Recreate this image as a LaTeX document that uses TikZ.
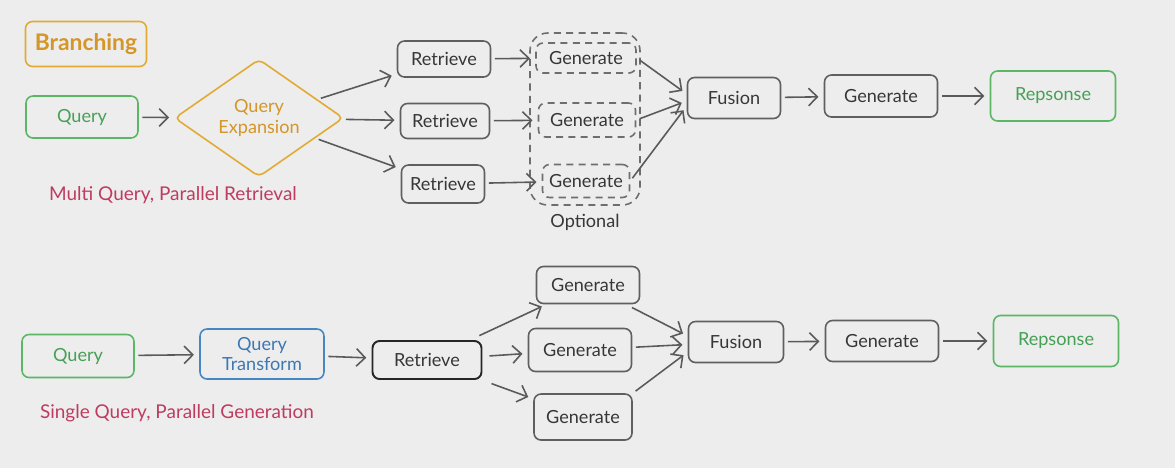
\documentclass[tikz,border=0pt]{standalone}
\usepackage{fontspec}
\setmainfont{Lato}
\usetikzlibrary{shapes.geometric,arrows.meta,calc}
\definecolor{bgc}{RGB}{237,237,237}
\definecolor{boxc}{RGB}{95,95,95}
\definecolor{txt}{RGB}{55,55,55}
\definecolor{arrc}{RGB}{90,90,90}
\definecolor{grn}{RGB}{92,182,102}
\definecolor{grnt}{RGB}{70,160,85}
\definecolor{orng}{RGB}{226,170,50}
\definecolor{orngt}{RGB}{212,150,40}
\definecolor{blu}{RGB}{70,135,195}
\definecolor{blut}{RGB}{60,120,180}
\definecolor{crim}{RGB}{190,60,95}
\definecolor{dsh}{RGB}{110,110,110}
\tikzset{
  box/.style={draw=boxc, rounded corners=4pt, line width=0.9pt, text=txt, align=center, inner sep=0pt},
  dbox/.style={box, dashed, dash pattern=on 4pt off 3pt},
  arr/.style={-{Straight Barb[length=5pt,width=10pt]}, draw=arrc, line width=0.9pt, shorten <=2pt, shorten >=3pt},
  lbl/.style={text=crim, inner sep=0pt, font=\fontsize{10.8}{12}\selectfont}
}
\begin{document}
\begin{tikzpicture}[x=0.02cm,y=-0.02cm, font=\fontsize{10.3}{11.5}\selectfont]
\fill[bgc] (0,0) rectangle (1175,468);
\useasboundingbox (0,0) rectangle (1175,468);

% ---------- top row ----------
\node[box, draw=orng, text=orngt, minimum width=2.42cm, minimum height=0.9cm, font=\fontsize{13}{15}\selectfont\bfseries] (br) at (86,44) {Branching};
\node[box, draw=grn, text=grnt, minimum width=2.24cm, minimum height=0.84cm] (q1) at (82,117) {Query};
\node[diamond, draw=orng, text=orngt, line width=0.9pt, minimum width=3.38cm, minimum height=1.86cm, inner sep=0pt, align=center, rounded corners=3pt] (qe) at (259,118) {Query\\Expansion};
\node[lbl] (lab1) at (173,195) {Multi Query, Parallel Retrieval};

\node[box, minimum width=1.86cm, minimum height=0.72cm] (r1) at (444,59) {Retrieve};
\node[box, minimum width=1.78cm, minimum height=0.7cm] (r2) at (445,121) {Retrieve};
\node[box, minimum width=1.66cm, minimum height=0.76cm] (r3) at (443,184) {Retrieve};

\node[dbox, draw=dsh, rounded corners=10pt, minimum width=2.2cm, minimum height=3.44cm] (opt) at (585,119) {};
\node[dbox, draw=dsh, minimum width=2.0cm, minimum height=0.6cm] (g1) at (586,58) {Generate};
\node[dbox, draw=dsh, minimum width=1.94cm, minimum height=0.68cm] (g2) at (587,120) {Generate};
\node[dbox, draw=dsh, minimum width=1.74cm, minimum height=0.66cm] (g3) at (586,181) {Generate};
\node[text=txt, inner sep=0pt] (optl) at (585,222) {Optional};

\node[box, minimum width=1.86cm, minimum height=0.82cm] (fu1) at (734,98) {Fusion};
\node[box, minimum width=2.26cm, minimum height=0.84cm] (ge1) at (881,96) {Generate};
\node[box, draw=grn, text=grnt, minimum width=2.5cm, minimum height=1.0cm] (rs1) at (1053,96) {Repsonse};

\draw[arr] (q1) -- (qe);
\draw[arr] (qe) -- (r1);
\draw[arr] (qe) -- (r2);
\draw[arr] (qe) -- (r3);
\draw[arr] (r1) -- (g1);
\draw[arr] (r2) -- (g2);
\draw[arr] (r3) -- (g3);
\draw[arr] (g1.east) -- ($(fu1.west)+(0,-4)$);
\draw[arr] (g2.east) -- ($(fu1.west)+(0,3)$);
\draw[arr] (g3.east) -- ($(fu1.west)+(0,8)$);
\draw[arr] (fu1) -- (ge1);
\draw[arr] (ge1) -- (rs1);

% ---------- bottom row ----------
\node[box, draw=grn, text=grnt, minimum width=2.24cm, minimum height=0.86cm] (q2) at (78,356) {Query};
\node[box, draw=blu, text=blut, minimum width=2.48cm, minimum height=1.0cm] (qt) at (262,354) {Query\\Transform};
\node[box, draw=black!85, line width=1.1pt, minimum width=2.18cm, minimum height=0.76cm] (rb) at (427,360) {Retrieve};
\node[lbl] (lab2) at (177,413) {Single Query, Parallel Generation};

\node[box, minimum width=2.06cm, minimum height=0.74cm] (gb1) at (588,285) {Generate};
\node[box, minimum width=2.06cm, minimum height=0.86cm] (gb2) at (580,350) {Generate};
\node[box, minimum width=1.96cm, minimum height=0.92cm] (gb3) at (583,417) {Generate};

\node[box, minimum width=1.9cm, minimum height=0.82cm] (fu2) at (736,342) {Fusion};
\node[box, minimum width=2.26cm, minimum height=0.82cm] (ge2) at (882,341) {Generate};
\node[box, draw=grn, text=grnt, minimum width=2.5cm, minimum height=1.02cm] (rs2) at (1056,341) {Repsonse};

\draw[arr] (q2) -- (qt);
\draw[arr] (qt) -- (rb);
\draw[arr, shorten <=6pt] (rb) -- (gb1);
\draw[arr, shorten <=4pt] (rb) -- (gb2);
\draw[arr, shorten <=6pt] (rb) -- (gb3);
\draw[arr, shorten <=4pt] (gb1) -- ($(fu2.west)+(0,-6)$);
\draw[arr] (gb2) -- (fu2);
\draw[arr] (gb3.north east) -- ($(fu2.west)+(0,10)$);
\draw[arr] (fu2) -- (ge2);
\draw[arr] (ge2) -- (rs2);
\end{tikzpicture}
\end{document}
